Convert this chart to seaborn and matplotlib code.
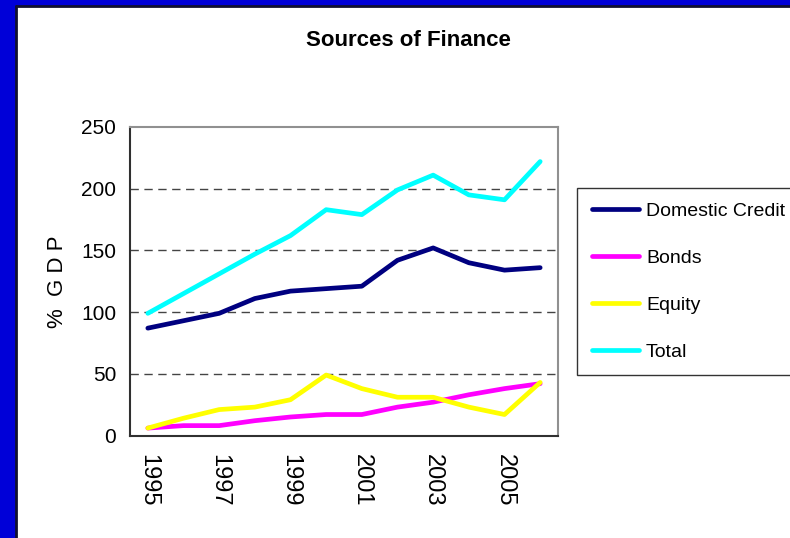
import numpy as np
import pandas as pd
import matplotlib
matplotlib.use("Agg")
import matplotlib.pyplot as plt
import seaborn as sns
from matplotlib.lines import Line2D
from matplotlib.patches import Rectangle

# ==================================================
# DATA (% of GDP)
# ==================================================
years = [1995, 1996, 1997, 1998, 1999, 2000, 2001, 2002, 2003, 2004, 2005, 2006]
domestic_credit = [87, 93, 99, 111, 117, 119, 121, 142, 152, 140, 134, 136]
bonds = [6, 8, 8, 12, 15, 17, 17, 23, 27, 33, 38, 42]
equity = [6, 14, 21, 23, 29, 49, 38, 31, 31, 23, 17, 43]
total = [99, 115, 131, 147, 162, 183, 179, 199, 211, 195, 191, 222]

series_names = ["Domestic Credit", "Bonds", "Equity", "Total"]
series_colors = ["#000080", "#ff00ff", "#ffff00", "#00ffff"]
year_labels = ["1995", "1997", "1999", "2001", "2003", "2005"]

# long form table for seaborn
pos = np.arange(len(years))
df = pd.concat([
    pd.DataFrame({"pos": pos, "value": vals, "series": name})
    for name, vals in zip(series_names, [domestic_credit, bonds, equity, total])
])

# ==================================================
# PLOT
# ==================================================
sns.set_style("white")
plt.rcParams["font.family"] = ["Liberation Sans", "DejaVu Sans"]
plt.rcParams["text.color"] = "black"
plt.rcParams["xtick.color"] = "black"
plt.rcParams["ytick.color"] = "black"
plt.rcParams["axes.labelcolor"] = "black"

W, H = 790, 538
fig = plt.figure(figsize=(W / 100, H / 100), dpi=100, facecolor="#0000d8")

# white slide panel with a dark edge
fig.patches.append(Rectangle((16 / W, 0), 1, 1 - 6 / H, transform=fig.transFigure,
                             facecolor="white", edgecolor="none", zorder=-2))
fig.lines.append(Line2D([16 / W, 16 / W], [0, 1 - 6 / H], transform=fig.transFigure,
                        color="#101030", lw=2, zorder=-1))
fig.lines.append(Line2D([16 / W, 1], [1 - 6 / H, 1 - 6 / H], transform=fig.transFigure,
                        color="#101030", lw=2, zorder=-1))

ax = fig.add_axes([130 / W, (H - 435.5) / H, 428 / W, 308.5 / H])
ax.set_zorder(3)
ax.set_facecolor("white")

sns.lineplot(data=df, x="pos", y="value", hue="series", palette=series_colors,
             hue_order=series_names, linewidth=3.4, ax=ax, legend=False)

ax.set_xlim(-0.5, len(years) - 0.5)
ax.set_ylim(0, 250)
ax.set_yticks([0, 50, 100, 150, 200, 250])
ax.set_yticklabels(["0", "50", "100", "150", "200", "250"], fontsize=15)
for g in [50, 100, 150, 200]:
    ax.axhline(g, color="#444444", lw=1, dashes=(6, 4), zorder=0)

# category boundaries get the tick marks, labels sit at the centres
ax.set_xticks(np.arange(-0.5, len(years), 1.0))
ax.set_xticklabels([])
ax.set_xticks(pos[::2], minor=True)
ax.set_xticklabels(year_labels, minor=True, rotation=-90, fontsize=17, va="top")
ax.tick_params(axis="x", which="major", direction="out", length=7, width=1.2, color="#303030")
ax.tick_params(axis="x", which="minor", length=0, pad=13)
ax.tick_params(axis="y", direction="out", length=6, width=1.2, color="#303030", pad=4)

ax.set_xlabel("")
ax.set_ylabel("%  G D P", fontsize=16, labelpad=9)

for side in ["left", "bottom"]:
    ax.spines[side].set_color("#303030")
    ax.spines[side].set_linewidth(1.5)
for side in ["top", "right"]:
    ax.spines[side].set_color("#909090")
    ax.spines[side].set_linewidth(1.5)

fig.text(408 / W, 1 - 40 / H, "Sources of Finance", ha="center", va="center",
         fontsize=16, fontweight="bold")

handles = [Line2D([], [], color=c, lw=3.4) for c in series_colors]
leg = fig.legend(handles, series_names, loc="upper left",
                 bbox_to_anchor=(577 / W, 1 - 188 / H), fontsize=14,
                 frameon=True, fancybox=False, handlelength=2.45, handletextpad=0.35,
                 labelspacing=1.5, borderpad=0.75, borderaxespad=0)
leg.get_frame().set_edgecolor("black")
leg.get_frame().set_linewidth(1)
leg.set_zorder(4)

fig.savefig("out.png", dpi=100, facecolor=fig.get_facecolor())
